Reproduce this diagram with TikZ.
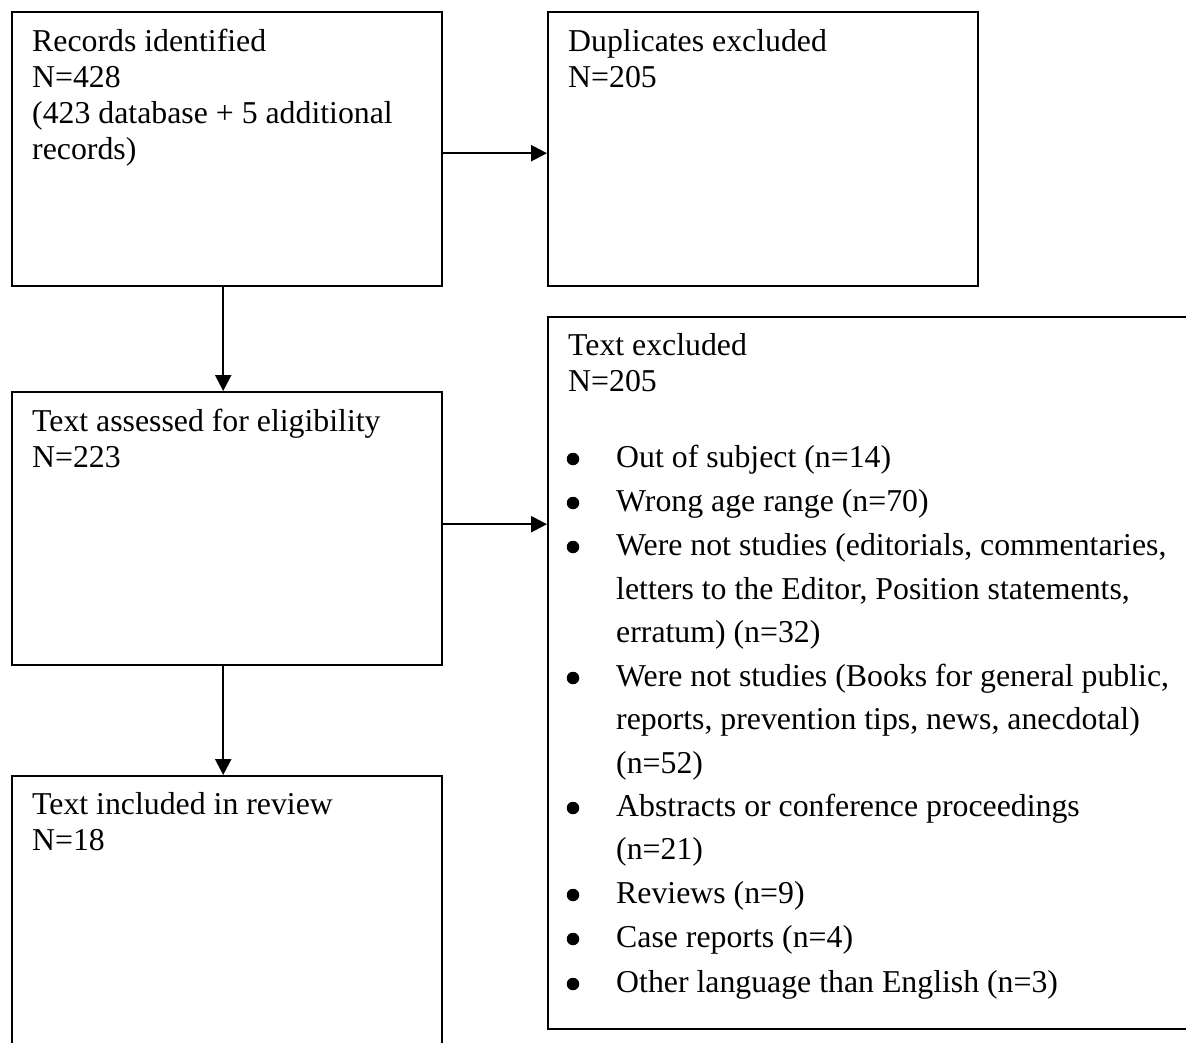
\documentclass[tikz,border=0pt]{standalone}
\usepackage{fontspec}
\setmainfont{Liberation Serif}
\usetikzlibrary{arrows.meta}
\begin{document}
\begin{tikzpicture}[x=1pt,y=-1pt,
  box/.style={draw,line width=2.4pt,rectangle,inner sep=0pt,anchor=north west},
  txt/.style={anchor=base west,inner sep=0pt,font=\fontsize{31.8}{36}\selectfont},
  bul/.style={circle,fill,inner sep=0pt,minimum size=12.5pt},
  arr/.style={-{Triangle[length=16pt,width=16pt]},line width=2.4pt}]
\useasboundingbox (0,0) rectangle (1186,1043);
\clip (0,0) rectangle (1186,1043);
% boxes
\node[box,minimum width=430pt,minimum height=274pt] (b1) at (11,11) {};
\node[box,minimum width=430pt,minimum height=274pt] (b2) at (547,11) {};
\node[box,minimum width=660pt,minimum height=712pt] (b3) at (547,316) {};
\node[box,minimum width=430pt,minimum height=273pt] (b4) at (11,391) {};
\node[box,minimum width=430pt,minimum height=300pt] (b5) at (11,775) {};
% connectors
\draw[arr] ([yshift=-4pt]b1.east) -- ([yshift=-4pt]b1.east -| b2.west);
\draw[arr] ([xshift=-4pt]b1.south) -- ([xshift=-4pt]b1.south |- b4.north);
\draw[arr] ([yshift=4.5pt]b4.east) -- ([yshift=4.5pt]b4.east -| b3.west);
\draw[arr] ([xshift=-4pt]b4.south) -- ([xshift=-4pt]b4.south |- b5.north);
% box 1 text
\node[txt] (t1a) at (32,52) {Records identified};
\node[txt] (t1b) at (32,88) {N=428};
\node[txt] (t1c) at (32,124) {(423 database + 5 additional};
\node[txt] (t1d) at (32,160) {records)};
% box 2 text
\node[txt] (t2a) at (568,52) {Duplicates excluded};
\node[txt] (t2b) at (568,88) {N=205};
% box 4 text
\node[txt] (t4a) at (32,431) {Text assessed for eligibility};
\node[txt] (t4b) at (32,467) {N=223};
% box 5 text
\node[txt] (t5a) at (32,814) {Text included in review};
\node[txt] (t5b) at (32,850) {N=18};
% box 3 text
\node[txt] (t3a) at (568,355) {Text excluded};
\node[txt] (t3b) at (568,391) {N=205};
\node[bul] (p1) at (573,459) {};
\node[txt] (l1) at (616,467) {Out of subject (n=14)};
\node[bul] (p2) at (573,503) {};
\node[txt] (l2) at (616,511) {Wrong age range (n=70)};
\node[bul] (p3) at (573,547) {};
\node[txt] (l3) at (616,555) {Were not studies (editorials, commentaries,};
\node[txt] (l3b) at (616,599) {letters to the Editor, Position statements,};
\node[txt] (l3c) at (616,642) {erratum) (n=32)};
\node[bul] (p4) at (573,678) {};
\node[txt] (l4) at (616,686) {Were not studies (Books for general public,};
\node[txt] (l4b) at (616,729) {reports, prevention tips, news, anecdotal)};
\node[txt] (l4c) at (616,773) {(n=52)};
\node[bul] (p5) at (573,808) {};
\node[txt] (l5) at (616,816) {Abstracts or conference proceedings};
\node[txt] (l5b) at (616,859) {(n=21)};
\node[bul] (p6) at (573,895) {};
\node[txt] (l6) at (616,903) {Reviews (n=9)};
\node[bul] (p7) at (573,939) {};
\node[txt] (l7) at (616,947) {Case reports (n=4)};
\node[bul] (p8) at (573,984) {};
\node[txt] (l8) at (616,992) {Other language than English (n=3)};
\end{tikzpicture}
\end{document}
